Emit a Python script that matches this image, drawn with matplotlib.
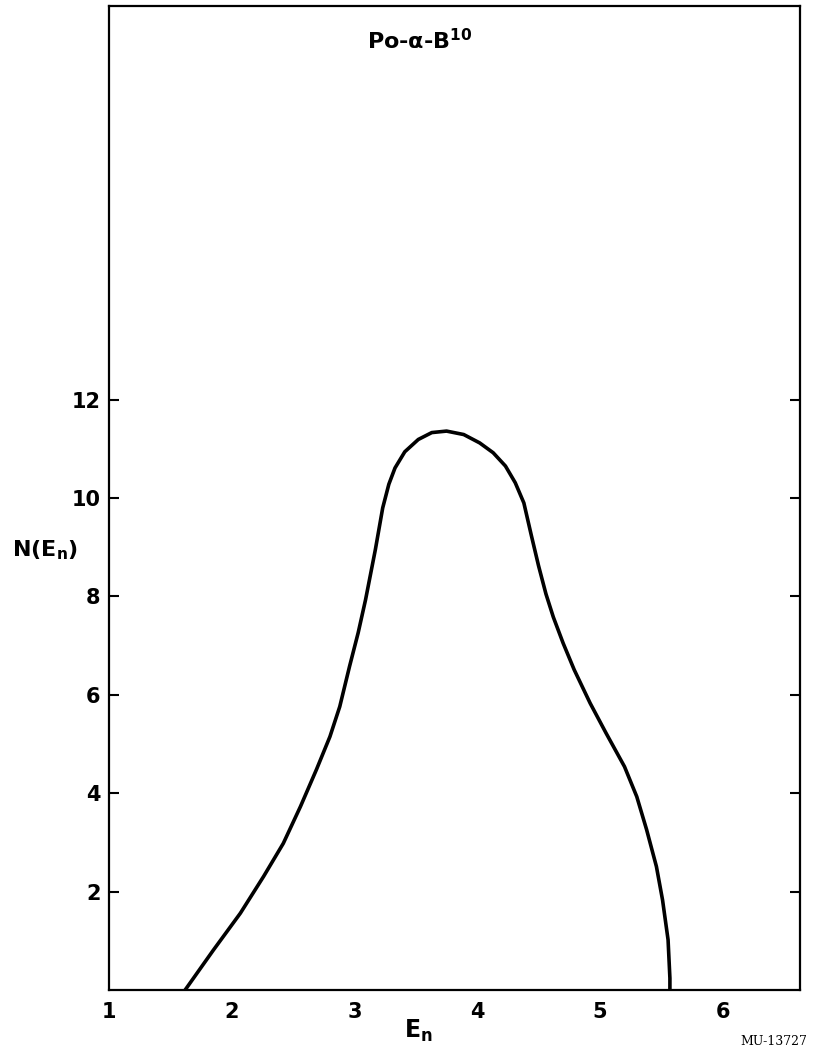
import matplotlib
matplotlib.use('Agg')
import matplotlib.pyplot as plt

# curve
en = [1.62, 1.85, 2.07, 2.26, 2.42, 2.56, 2.69, 2.80, 2.88, 2.96, 3.03, 3.09,
      3.17, 3.23, 3.28, 3.33, 3.41, 3.52, 3.63, 3.75, 3.89, 4.02, 4.13, 4.23,
      4.31, 4.38, 4.44, 4.50, 4.56, 4.62, 4.70, 4.79, 4.92, 5.05, 5.20, 5.30,
      5.38, 5.46, 5.51, 5.555, 5.57, 5.57]
n_en = [0.0, 0.81, 1.56, 2.31, 2.98, 3.73, 4.48, 5.15, 5.76, 6.58, 7.26, 7.93,
        8.95, 9.80, 10.28, 10.61, 10.94, 11.19, 11.33, 11.36, 11.29, 11.12, 10.92, 10.65,
        10.31, 9.90, 9.25, 8.62, 8.05, 7.58, 7.05, 6.51, 5.83, 5.22, 4.54, 3.93,
        3.26, 2.51, 1.83, 1.02, 0.24, 0.0]

xticks = [1, 2, 3, 4, 5, 6]
yticks = [2, 4, 6, 8, 10, 12]

fig = plt.figure(figsize=(8.16, 10.57), dpi=100)
ax = fig.add_axes([0.1336, 0.0634, 0.8468, 0.9309])

ax.plot(en, n_en, 'k-', lw=2.6, solid_joinstyle='round')
ax.set_xlim(1, 6.63)
ax.set_ylim(0, 20)

ax.set_xticks(xticks)
ax.set_xticklabels([str(t) for t in xticks], fontweight='bold')
ax.set_yticks(yticks)
ax.set_yticklabels([str(t) for t in yticks], fontweight='bold')
ax.tick_params(axis='x', length=0, pad=9, labelsize=15)
ax.tick_params(axis='y', direction='in', length=7, width=1.5, labelsize=15,
               right=True, pad=6)
for s in ax.spines.values():
    s.set_linewidth(1.6)

ax.set_ylabel('N(E$_\\mathbf{n}$)', rotation=0, fontsize=16, fontweight='bold')
ax.yaxis.set_label_coords(-0.093, 0.435)
ax.set_xlabel('E$_\\mathbf{n}$', fontsize=17, fontweight='bold')
ax.xaxis.set_label_coords(0.447, -0.028)

ax.text(0.45, 0.965, 'Po-α-B$^\\mathbf{10}$', transform=ax.transAxes,
        ha='center', va='center', fontsize=16, fontweight='bold')
fig.text(0.948, 0.015, 'MU-13727', family='DejaVu Serif', fontsize=9,
         ha='center', va='center')

fig.savefig('out.png', dpi=100)
